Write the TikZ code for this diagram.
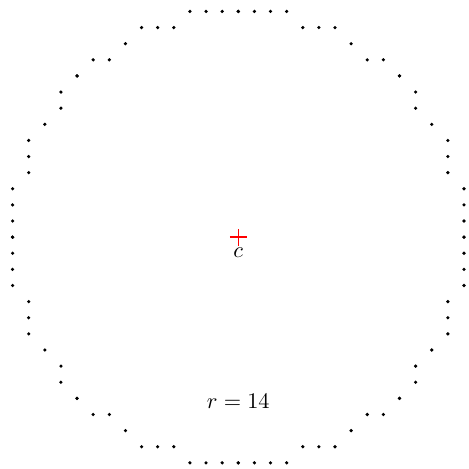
\documentclass[tikz,border=0pt]{standalone}
\usetikzlibrary{calc}
\tikzset{
  pixel/.style  = {fill=black},
  centre/.style = {draw=red, line width=0.6pt},
  lbl/.style    = {inner sep=1pt},
}
\begin{document}
\begin{tikzpicture}[x=0.254cm, y=0.254cm]
  \useasboundingbox (-14.78,-14.32) rectangle (14.31,14.71);

  % ---- one octant of the raster circle, mirrored eight ways ----
  \foreach \a/\b in {0/14,1/14,2/14,3/14,4/13,5/13,6/13,7/12,8/11,9/11,10/10} {
    \foreach \sx in {-1,1} {
      \foreach \sy in {-1,1} {
        \fill[pixel] (\sx*\a,\sy*\b) circle (0.8pt);
        \fill[pixel] (\sx*\b,\sy*\a) circle (0.8pt);
      }
    }
  }

  % ---- centre ----
  \coordinate (c) at (0,0);
  \draw[centre] ($(c)+(-0.52,0)$) -- ($(c)+(0.52,0)$);
  \draw[centre] ($(c)+(0,-0.52)$) -- ($(c)+(0,0.5)$);
  \node[lbl] (clabel) at ($(c)+(0,-0.98)$) {$c$};

  \node[lbl] (radius) at (0,-10.2) {$r = 14$};
\end{tikzpicture}
\end{document}
